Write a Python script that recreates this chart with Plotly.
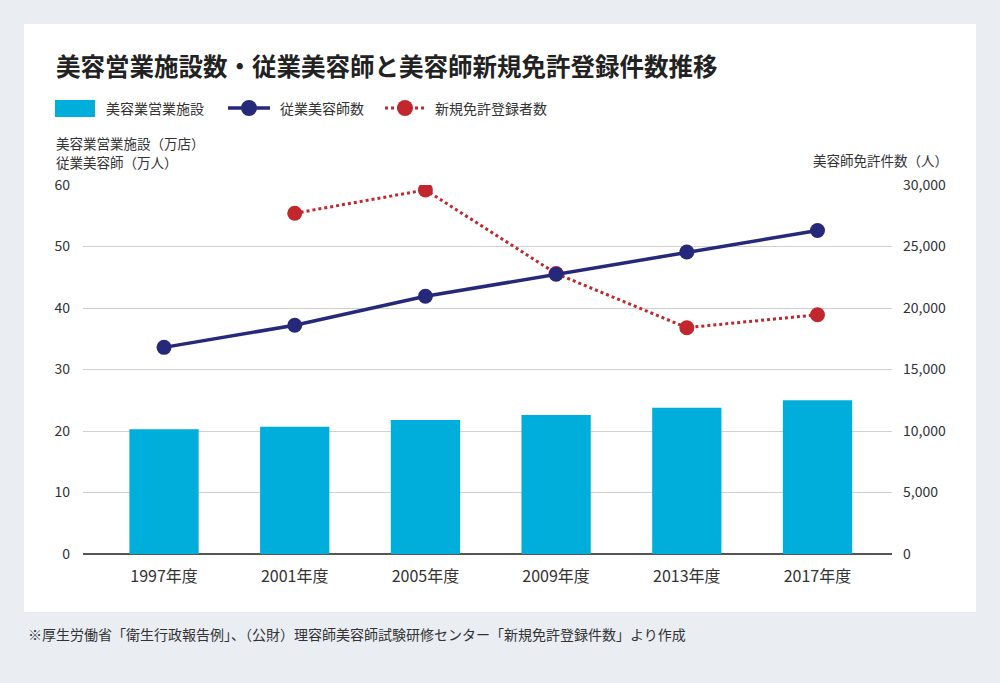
import plotly.graph_objects as go

years = ["1997年度", "2001年度", "2005年度", "2009年度", "2013年度", "2017年度"]
facilities = [20.3, 20.7, 21.8, 22.6, 23.8, 25.0]          # 万店
beauticians = [33.6, 37.2, 41.9, 45.5, 49.1, 52.6]         # 万人
new_licenses_years = ["2001年度", "2005年度", "2009年度", "2013年度", "2017年度"]
new_licenses = [27700, 29600, 22800, 18400, 19450]          # 人

FONT = "Noto Sans CJK JP"
BAR = "#00aedb"
NAVY = "#26297a"
RED = "#c1272d"
TXT = "#333333"

W, H = 1000, 683
L, R, T, B = 83, 892, 185, 554   # plot area pixels


def px(x):
    return (x - L) / (R - L)


def py(y):
    return (B - y) / (B - T)


fig = go.Figure()
# red series on the base (right-side) axis so it is drawn beneath the navy line
fig.add_trace(go.Scatter(x=new_licenses_years, y=new_licenses, mode="lines+markers",
                         line=dict(color=RED, width=3, dash="dot"),
                         marker=dict(color=RED, size=15), name="新規免許登録者数", yaxis="y"))
fig.add_trace(go.Bar(x=years, y=facilities, marker=dict(color=BAR, line=dict(width=0)),
                     width=0.53, name="美容業営業施設", yaxis="y2"))
fig.add_trace(go.Scatter(x=years, y=beauticians, mode="lines+markers",
                         line=dict(color=NAVY, width=3.5),
                         marker=dict(color=NAVY, size=15), name="従業美容師数", yaxis="y2"))

shapes = [
    # white card
    dict(type="rect", xref="paper", yref="paper", x0=px(24), x1=px(976), y0=py(612), y1=py(24),
         fillcolor="white", line=dict(width=0), layer="below"),
    # legend: bar icon
    dict(type="rect", xref="paper", yref="paper", x0=px(55), x1=px(95), y0=py(117), y1=py(100),
         fillcolor=BAR, line=dict(width=0)),
    # legend: navy line
    dict(type="line", xref="paper", yref="paper", x0=px(228), x1=px(270), y0=py(108), y1=py(108),
         line=dict(color=NAVY, width=3.5)),
    dict(type="circle", xref="paper", yref="paper", x0=px(241), x1=px(257), y0=py(116), y1=py(100),
         fillcolor=NAVY, line=dict(width=0)),
    # legend: red dotted
    dict(type="line", xref="paper", yref="paper", x0=px(385), x1=px(426), y0=py(108), y1=py(108),
         line=dict(color=RED, width=3, dash="dot")),
    dict(type="circle", xref="paper", yref="paper", x0=px(397), x1=px(413), y0=py(116), y1=py(100),
         fillcolor=RED, line=dict(width=0)),
]

leg_font = dict(family=FONT, size=14, color=TXT)
ax_font = dict(family=FONT, size=13.5, color=TXT)
annotations = [
    dict(text="美容営業施設数・従業美容師と美容師新規免許登録件数推移", x=px(54), y=py(66),
         xref="paper", yref="paper", xanchor="left", yanchor="middle", showarrow=False,
         font=dict(family=FONT, size=24.5, color="#222222", weight="bold")),
    dict(text="美容業営業施設", x=px(104), y=py(108), xref="paper", yref="paper",
         xanchor="left", yanchor="middle", showarrow=False, font=leg_font),
    dict(text="従業美容師数", x=px(278), y=py(108), xref="paper", yref="paper",
         xanchor="left", yanchor="middle", showarrow=False, font=leg_font),
    dict(text="新規免許登録者数", x=px(433), y=py(108), xref="paper", yref="paper",
         xanchor="left", yanchor="middle", showarrow=False, font=leg_font),
    dict(text="美容業営業施設（万店）", x=px(54), y=py(143), xref="paper", yref="paper",
         xanchor="left", yanchor="middle", showarrow=False, font=ax_font),
    dict(text="従業美容師（万人）", x=px(54), y=py(162), xref="paper", yref="paper",
         xanchor="left", yanchor="middle", showarrow=False, font=ax_font),
    dict(text="美容師免許件数（人）", x=px(950), y=py(160), xref="paper", yref="paper",
         xanchor="right", yanchor="middle", showarrow=False, font=ax_font),
    dict(text="※厚生労働省「衛生行政報告例」、（公財）理容師美容師試験研修センター「新規免許登録件数」より作成",
         x=px(26), y=py(634), xref="paper", yref="paper",
         xanchor="left", yanchor="middle", showarrow=False, font=leg_font),
]

fig.update_layout(
    width=W, height=H,
    margin=dict(l=L, r=W - R, t=T, b=H - B, pad=0),
    paper_bgcolor="#eaeef3",
    plot_bgcolor="white",
    showlegend=False,
    font=dict(family=FONT, color=TXT),
    shapes=shapes,
    annotations=annotations,
    xaxis=dict(type="category", categoryorder="array", categoryarray=years,
               range=[-0.62, 5.57], showgrid=False, ticks="",
               tickfont=dict(family=FONT, size=16, color=TXT), ticklabelstandoff=11,
               showline=False, zeroline=False),
    # right axis (base): carries the grid
    yaxis=dict(range=[0, 30000], dtick=5000, side="right", showgrid=True,
               gridcolor="#d0d0d0", gridwidth=1,
               zeroline=True, zerolinecolor="#555555", zerolinewidth=1.5,
               tickformat=",", ticks="", ticklabelstandoff=10,
               tickfont=dict(family=FONT, size=14, color=TXT), showline=False),
    # left axis (overlay)
    yaxis2=dict(range=[0, 60], dtick=10, overlaying="y", side="left", showgrid=False,
                zeroline=False, ticks="", ticklabelstandoff=12,
                tickfont=dict(family=FONT, size=14, color=TXT), showline=False),
)

fig.write_html("out.html", config={"displayModeBar": False},
               post_script="document.body.style.margin='0';document.body.style.overflow='hidden';")
